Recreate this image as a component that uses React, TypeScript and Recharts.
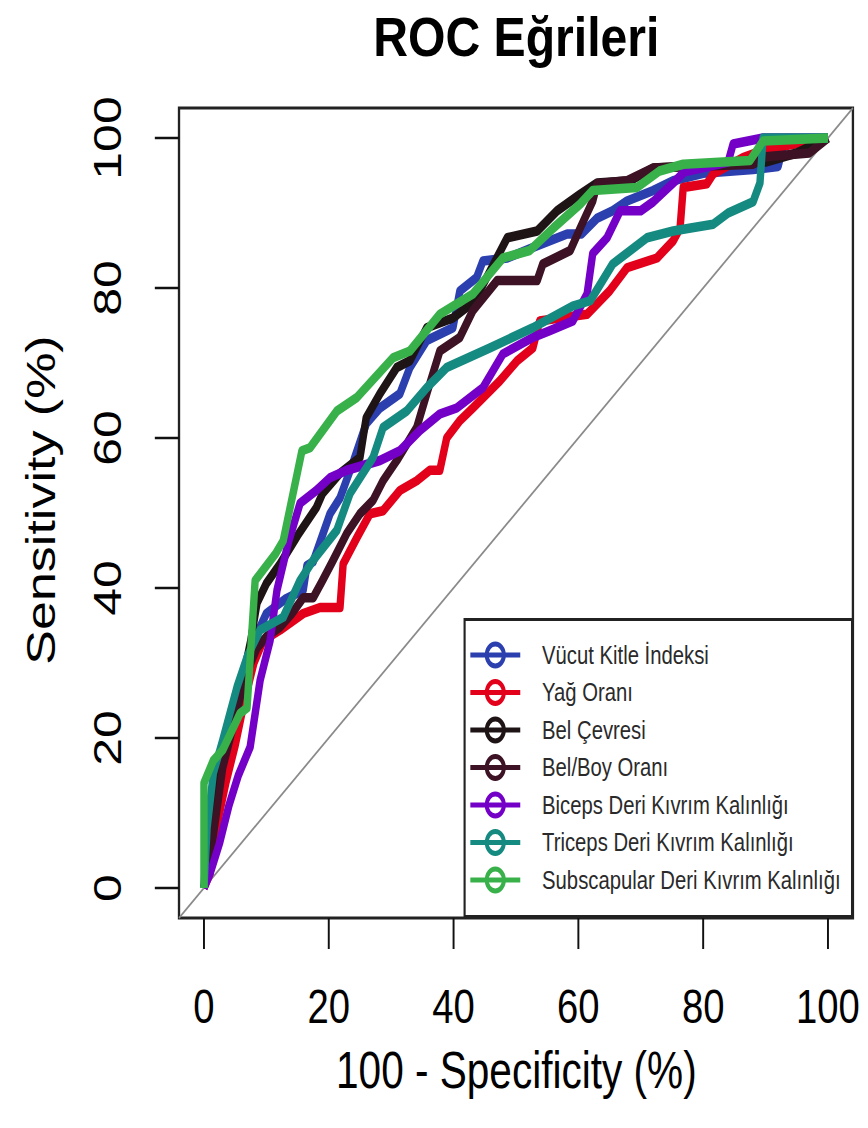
import { LineChart, Line, XAxis, YAxis, ReferenceArea, ReferenceLine } from 'recharts'

// the reference is an R plot squeezed horizontally; draw at native width and squeeze the same way
const SQUEEZE = 0.78
const W = 1113
const H = 1128
const FONT = '"Liberation Sans", Arial, sans-serif'

const ticks = [0, 20, 40, 60, 80, 100]

const vkiX = [0, 0.8, 2, 3.5, 5, 6.5, 8, 10, 13, 15.9, 16.5, 17.5, 20.2, 21.8, 24, 26, 28.2, 31.4, 33, 35.7, 39.9, 41, 43.7, 44.7, 48.6, 53, 58.2, 60.5, 63, 65.5, 67.8, 72, 75.2, 80, 88, 92, 93, 100]
const vkiY = [0, 6, 12, 18, 22, 27, 33, 36.6, 38.5, 39.7, 43, 43.5, 49.9, 52, 57, 61.9, 64, 65.9, 69.4, 73, 74.7, 79.6, 81.4, 83.6, 84, 85.5, 87.2, 87.2, 89.3, 90.3, 91.6, 93, 94.3, 95.3, 95.8, 96.2, 99.5, 100]

const yagX = [0, 1, 2, 3.5, 5, 6.5, 8, 9.5, 12.2, 15.9, 18.6, 21.8, 22.3, 24.5, 26.6, 28.7, 31.4, 34.1, 36.2, 37.8, 38.9, 41, 43.1, 47.4, 50.2, 52.7, 53.8, 57, 61.4, 65, 67.8, 72.6, 75.2, 76.3, 76.8, 80.6, 81.6, 86.4, 90, 100]
const yagY = [0, 2, 8, 14, 19, 25, 30, 33, 34.4, 36.6, 37.4, 37.4, 43.2, 46.7, 49.9, 50.3, 53, 54.3, 55.7, 55.7, 60, 62.3, 64, 67.6, 70.3, 72, 75.6, 76, 76.5, 79.6, 82.7, 84, 86.3, 88, 93.4, 93.9, 95.2, 97.4, 98.5, 100]

const belX = [0, 0.8, 1.5, 3, 4.5, 6, 7.5, 8.5, 10, 12.2, 15, 18, 19, 21.8, 25, 26, 28.2, 30.9, 33, 35.7, 39.9, 42.1, 44.2, 48.6, 53.4, 56.6, 60.3, 63, 68.3, 72, 90, 95, 100]
const belY = [0, 5, 12, 17, 22, 27, 33, 38, 40.6, 43.2, 47, 50.7, 52.6, 55.3, 57.4, 62.7, 65.9, 69.4, 70.3, 74.7, 76, 77.4, 79.6, 86.7, 87.6, 90.3, 92.5, 94, 94.3, 96, 96.8, 98, 100]

const belBoyX = [0, 1, 2, 3, 4.5, 6, 7.5, 8.5, 10, 12.2, 14, 15.9, 17.5, 19, 20.7, 22.9, 25, 27.1, 28.7, 30.9, 34.1, 35.7, 37.8, 41, 43.1, 47, 53.4, 54.3, 58.7, 60.3, 62.3, 63, 67.8, 72, 88, 90, 97, 100]
const belBoyY = [0, 4, 10, 16, 21, 26, 30, 32, 33.5, 34.8, 36.5, 38.7, 38.7, 41, 43.7, 47.3, 49.9, 51.7, 54.3, 57, 61.4, 65.9, 71.6, 73.4, 77, 81, 81, 83.2, 85, 88, 91.6, 93.9, 94.3, 96, 96.5, 97.5, 98, 100]

const bicepsX = [0, 1, 2.5, 4, 5.5, 7.4, 9, 10.6, 11.7, 13.5, 15.4, 18, 20.2, 22.9, 28.2, 31.4, 34.6, 37.8, 40.5, 44.7, 47.9, 52.7, 55.4, 59.1, 61.4, 62.3, 64.6, 66.7, 70, 72, 75.2, 77, 84, 84.8, 89.6, 100]
const bicepsY = [0, 2, 6, 11, 15, 18.8, 27.7, 33, 39.7, 46, 51.3, 53, 54.7, 55.7, 57, 58.3, 61, 63.2, 64, 66.7, 71.2, 73.4, 74.3, 75.6, 79.2, 84.6, 86.7, 90.3, 90.3, 91.5, 94, 95.5, 96.8, 99.2, 100, 100]

const tricepsX = [0, 0.5, 1.5, 3, 5.3, 7, 9, 12.7, 15.4, 17.5, 21.3, 23.4, 27.1, 28.7, 32.5, 35.7, 38.9, 45.8, 52.7, 59.1, 61.9, 65.5, 71, 75.2, 78, 81.6, 84, 88, 89.1, 89.6, 100]
const tricepsY = [0, 8, 15.3, 19.7, 26.8, 31, 34.4, 36.1, 41, 43.7, 47.7, 52.6, 57.4, 61.4, 63.6, 66.7, 69.4, 72, 74.7, 77.6, 78.3, 83.2, 86.7, 87.6, 88, 88.5, 90, 91.5, 94, 100, 100]

const subscapX = [0, 0, 1.5, 3, 5.8, 6.9, 8.2, 11.5, 12.7, 15.7, 17, 21.3, 24.5, 30.3, 33, 37.8, 43.1, 47.9, 52.2, 56, 60.3, 62.3, 69.4, 73, 76.8, 87.5, 89.6, 100]
const subscapY = [0, 14, 17, 18.4, 23.3, 24, 41, 44.6, 46.3, 58.3, 58.7, 63.6, 65.4, 70.7, 71.6, 76.5, 79.2, 84, 85, 88, 91.2, 93, 93.4, 95.6, 96.5, 97, 99.6, 100]

const zip = (xs: number[], ys: number[]) => xs.map((x, i) => ({ x, y: ys[i] }))

const series = [
  { name: 'Vücut Kitle İndeksi', color: '#2b3fae', data: zip(vkiX, vkiY) },
  { name: 'Yağ Oranı', color: '#e3001b', data: zip(yagX, yagY) },
  { name: 'Bel Çevresi', color: '#1e1416', data: zip(belX, belY) },
  { name: 'Bel/Boy Oranı', color: '#3c1224', data: zip(belBoyX, belBoyY) },
  { name: 'Biceps Deri Kıvrım Kalınlığı', color: '#7400c8', data: zip(bicepsX, bicepsY) },
  { name: 'Triceps Deri Kıvrım Kalınlığı', color: '#158a80', data: zip(tricepsX, tricepsY) },
  { name: 'Subscapular Deri Kıvrım Kalınlığı', color: '#38b14a', data: zip(subscapX, subscapY) },
]

function XTick({ x, y, payload }: any) {
  return (
    <text x={x} y={y + 74} textAnchor="middle" fontSize={49} fontFamily={FONT} fill="#000">
      {payload.value}
    </text>
  )
}

function YTick({ x, y, payload }: any) {
  const bx = x - 44
  return (
    <text x={bx} y={y} transform={`rotate(-90, ${bx}, ${y})`} textAnchor="middle" fontSize={50} fontFamily={FONT} fill="#000">
      {payload.value}
    </text>
  )
}

export default function App() {
  return (
    <div
      style={{
        position: 'absolute',
        left: 0,
        top: 0,
        width: W,
        height: H,
        background: '#fff',
        transform: `scaleX(${SQUEEZE})`,
        transformOrigin: '0 0',
      }}
    >
      <LineChart width={W} height={H} margin={{ top: 108, right: 19.5, bottom: 0, left: 0 }}>
        <XAxis
          dataKey="x"
          type="number"
          domain={[-4, 104]}
          ticks={ticks}
          interval={0}
          height={210}
          axisLine={false}
          tickSize={31}
          tickMargin={0}
          tickLine={{ stroke: '#111', strokeWidth: 2.5 }}
          tick={<XTick />}
        />
        <YAxis
          dataKey="y"
          type="number"
          domain={[-4, 104]}
          ticks={ticks}
          interval={0}
          width={229.5}
          axisLine={false}
          tickSize={31}
          tickMargin={0}
          tickLine={{ stroke: '#111', strokeWidth: 2.5 }}
          tick={<YTick />}
        />
        <ReferenceLine
          segment={[{ x: -4, y: -4 }, { x: 104, y: 104 }]}
          stroke="#8a8a8a"
          strokeWidth={2}
        />
        {series.map((s) => (
          <Line
            key={s.name}
            data={s.data}
            dataKey="y"
            type="linear"
            stroke={s.color}
            strokeWidth={9.5}
            strokeLinejoin="round"
            dot={false}
            activeDot={false}
            isAnimationActive={false}
          />
        ))}
        <ReferenceArea x1={-4} x2={104} y1={-4} y2={104} fill="none" fillOpacity={0} stroke="#222" strokeWidth={3} />
      </LineChart>

      <svg width={W} height={H} style={{ position: 'absolute', left: 0, top: 0, pointerEvents: 'none' }}>
        <text x={662} y={56} textAnchor="middle" fontSize={56} fontWeight="bold" fontFamily={FONT} fill="#000" textLength={367} lengthAdjust="spacingAndGlyphs">
          ROC Eğrileri
        </text>
        <text x={662} y={1088} textAnchor="middle" fontSize={52} fontFamily={FONT} fill="#000">
          100 - Specificity (%)
        </text>
        <text x={70} y={500} transform="rotate(-90, 70, 500)" textAnchor="middle" fontSize={52} fontFamily={FONT} fill="#000">
          Sensitivity (%)
        </text>
      </svg>

      <svg width={500} height={300} style={{ position: 'absolute', left: 593.6, top: 618, pointerEvents: 'none' }}>
        <rect x={1.5} y={1.5} width={497} height={297} fill="#fff" stroke="#222" strokeWidth={3} />
        {series.map((s, i) => {
          const cy = 37 + i * 37.5
          return (
            <g key={s.name}>
              <line x1={9} x2={73} y1={cy} y2={cy} stroke={s.color} strokeWidth={5} />
              <circle cx={41} cy={cy} r={11} fill="none" stroke={s.color} strokeWidth={5} />
              <text x={101} y={cy + 9} fontSize={26} fontFamily={FONT} fill="#2a2a2a">
                {s.name}
              </text>
            </g>
          )
        })}
      </svg>
    </div>
  )
}
